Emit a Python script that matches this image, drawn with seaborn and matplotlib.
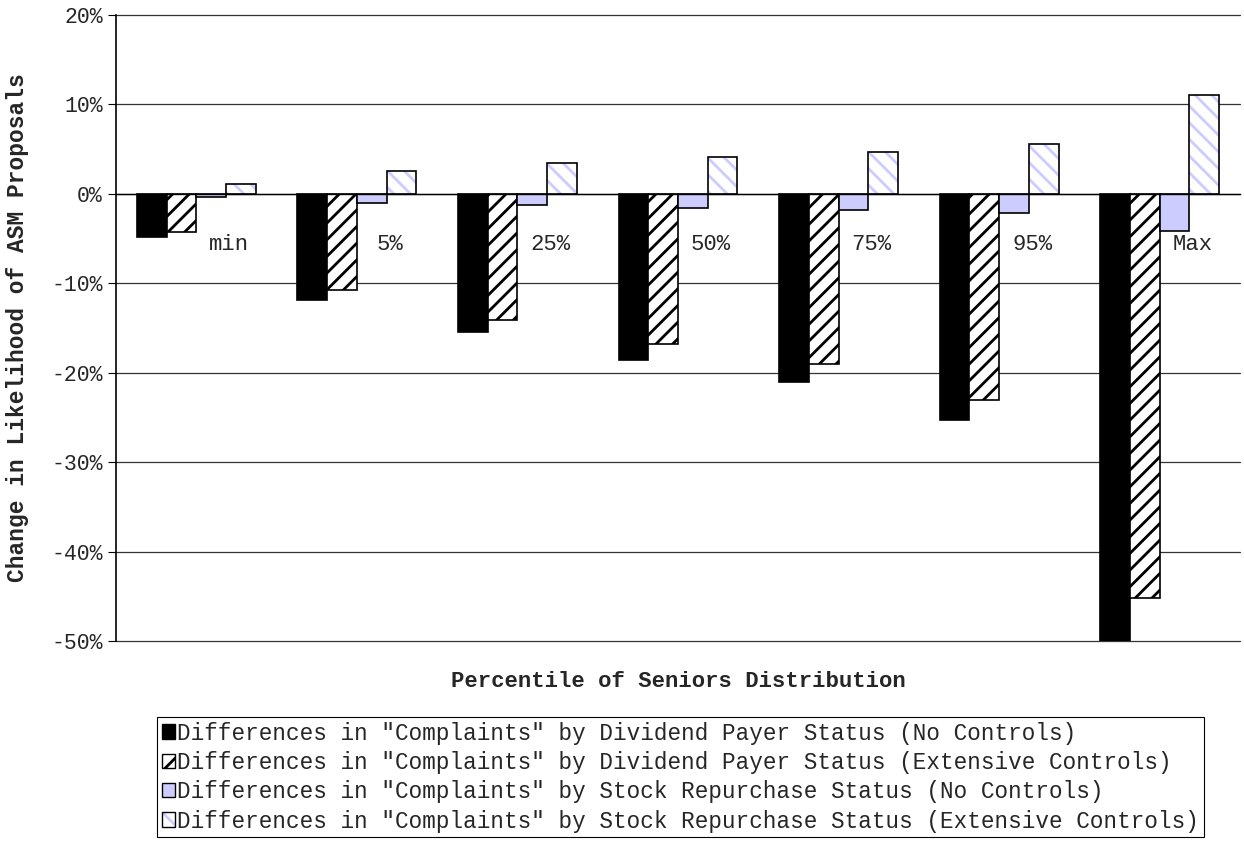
import matplotlib
matplotlib.use("Agg")
import matplotlib.pyplot as plt
from matplotlib.patches import Patch, Rectangle
from matplotlib.legend_handler import HandlerTuple
from matplotlib.ticker import FixedLocator, FuncFormatter
from matplotlib.transforms import ScaledTranslation
import pandas as pd
import seaborn as sns

percentiles = ["min", "5%", "25%", "50%", "75%", "95%", "Max"]
series_names = [
    'Differences in "Complaints" by Dividend Payer Status (No Controls)',
    'Differences in "Complaints" by Dividend Payer Status (Extensive Controls)',
    'Differences in "Complaints" by Stock Repurchase Status (No Controls)',
    'Differences in "Complaints" by Stock Repurchase Status (Extensive Controls)',
]
# values in percent
div_no_controls = [-4.8, -11.9, -15.5, -18.6, -21.0, -25.3, -50.0]
div_ext_controls = [-4.3, -10.8, -14.1, -16.8, -19.0, -23.0, -45.2]
rep_no_controls = [-0.3, -1.0, -1.3, -1.6, -1.8, -2.1, -4.1]
rep_ext_controls = [1.1, 2.6, 3.5, 4.1, 4.7, 5.6, 11.1]
y_ticks = [-50, -40, -30, -20, -10, 0, 10, 20]

all_series = [div_no_controls, div_ext_controls, rep_no_controls, rep_ext_controls]
df = pd.DataFrame({
    "percentile": percentiles * 4,
    "series": [name for name in series_names for _ in percentiles],
    "value": [v for s in all_series for v in s],
})

sns.set_style("white")
plt.rcParams['font.family'] = ['Liberation Mono', 'DejaVu Sans']
plt.rcParams['axes.unicode_minus'] = False
plt.rcParams['hatch.linewidth'] = 2.0

periwinkle = "#CCCCFF"
face_colors = ["black", "white", periwinkle, "white"]
hatches = [None, "//", None, "\\\\"]

fig = plt.figure(figsize=(12.44, 8.41), dpi=100)
ax = fig.add_axes([0.0932, 0.2378, 0.9036, 0.7444])

sns.barplot(data=df, x="percentile", y="value", hue="series", order=percentiles,
            hue_order=series_names, palette=face_colors, width=0.74, gap=0,
            saturation=1, edgecolor="black", linewidth=1.2, legend=False, ax=ax)

for i, container in enumerate(ax.containers):
    for bar in container:
        bar.set_facecolor(face_colors[i])
        if hatches[i]:
            bar.set_hatch(hatches[i])
        if i == 3:
            # hatch colour follows edge colour, so outline separately
            bar.set_edgecolor(periwinkle)
            bar.set_linewidth(0)
            ax.add_patch(Rectangle(bar.get_xy(), bar.get_width(), bar.get_height(),
                                   fill=False, edgecolor="black", linewidth=1.2))

ax.set_xlim(-0.5, len(percentiles) - 0.5)
ax.set_ylim(-50, 20)
ax.yaxis.set_major_locator(FixedLocator(y_ticks))
ax.yaxis.set_major_formatter(FuncFormatter(lambda v, p: f"{v:.0f}%"))
ax.yaxis.grid(True, color="#333333", linewidth=0.9)
ax.set_axisbelow(True)

for side in ["top", "right"]:
    ax.spines[side].set_visible(False)
ax.spines["bottom"].set_position(("data", 0))
ax.spines["bottom"].set_linewidth(1.0)
ax.spines["left"].set_linewidth(1.2)
for s in ax.spines.values():
    s.set_color("black")

ax.xaxis.set_major_locator(FixedLocator([i + 0.5 for i in range(len(percentiles) - 1)]))
ax.xaxis.set_major_formatter(FuncFormatter(lambda v, p: ""))
ax.xaxis.set_minor_locator(FixedLocator(list(range(len(percentiles)))))
ax.set_xticks(range(len(percentiles)), percentiles, minor=True)
ax.tick_params(axis="x", which="major", direction="out", length=4, width=0.8, color="black")
ax.tick_params(axis="x", which="minor", length=0, pad=29, labelsize=16)
ax.tick_params(axis="y", direction="out", length=6, width=0.8, color="black",
               labelsize=15.5, left=True)
offset = ScaledTranslation(0.33, 0, fig.dpi_scale_trans)
for tick in ax.xaxis.get_minor_ticks():
    tick.label1.set_transform(tick.label1.get_transform() + offset)
for gl in ax.get_ygridlines():
    gl.set_clip_on(False)

ax.set_xlabel("Percentile of Seniors Distribution", fontsize=16, fontweight="bold")
ax.set_ylabel("Change in Likelihood of ASM Proposals", fontsize=16.5, fontweight="bold")
ax.xaxis.set_label_coords(0.5, -0.048)
ax.yaxis.set_label_coords(-0.077, 0.5)

handles = [
    Patch(facecolor="black", edgecolor="black"),
    Patch(facecolor="white", edgecolor="black", hatch="//"),
    Patch(facecolor=periwinkle, edgecolor="black"),
    (Patch(facecolor="white", edgecolor=periwinkle, hatch="\\\\", linewidth=0),
     Patch(fill=False, edgecolor="black")),
]
leg = fig.legend(handles, series_names, loc="upper left",
                 bbox_to_anchor=(157 / 1244, 1 - 717 / 841), frameon=True,
                 fancybox=False, edgecolor="black", framealpha=1,
                 prop={"size": 16.3}, handlelength=0.6, handleheight=0.6,
                 handletextpad=0.1, labelspacing=0.28, borderpad=0.2,
                 borderaxespad=0, handler_map={tuple: HandlerTuple(ndivide=1)})
leg.get_frame().set_linewidth(0.8)

fig.savefig("out.png", dpi=100)
